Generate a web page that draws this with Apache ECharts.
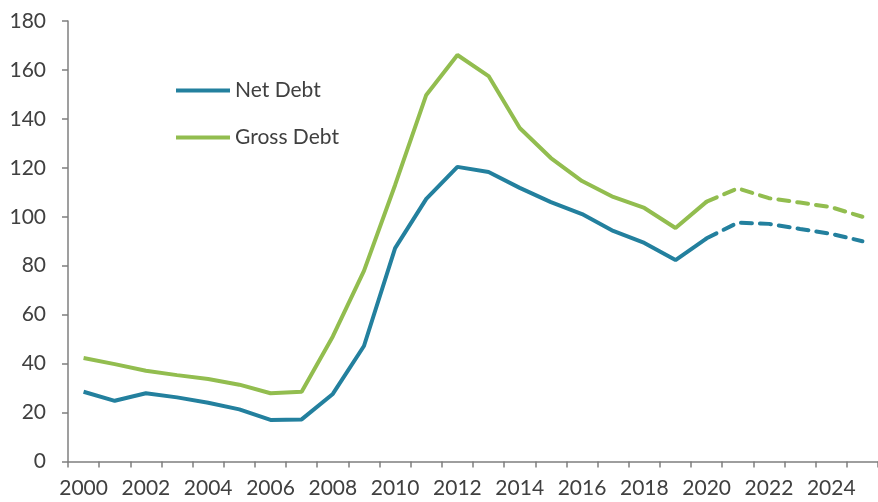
<!DOCTYPE html>
<html><head><meta charset="utf-8">
<script src="https://cdn.jsdelivr.net/npm/echarts@6/dist/echarts.min.js"></script>
<style>html,body{margin:0;padding:0;background:#fff}#c{width:878px;height:502px}</style>
</head><body><div id="c"></div>
<script>
var years = ['2000','2001','2002','2003','2004','2005','2006','2007','2008','2009','2010','2011','2012','2013','2014','2015','2016','2017','2018','2019','2020','2021','2022','2023','2024','2025'];
var netDebt = [28.5,24.8,27.9,26.2,24.0,21.3,17.0,17.2,27.6,47.2,87.2,107.3,120.4,118.3,111.8,106.0,101.1,94.2,89.3,82.3,91.2,97.6,97.1,95.0,93.0,90.0];
var grossDebt = [42.3,39.8,37.1,35.3,33.7,31.4,27.9,28.5,51.1,77.9,113.0,149.8,166.1,157.5,136.3,124.0,114.6,108.1,103.6,95.4,106.2,111.6,107.6,105.8,103.9,100.0];
var forecastStart = 20; // index of 2020
var yTicks = {min:0, max:180, interval:20};

function solidPart(arr){ return arr.map(function(v,i){ return i<=forecastStart ? v : null; }); }
function dashPart(arr){ return arr.map(function(v,i){ return i>=forecastStart ? v : null; }); }

var teal = '#23809e', green = '#92bd4f', textCol = '#404040', axisCol = '#7f7f7f';
var chart = echarts.init(document.getElementById('c'));
chart.setOption({
  animation:false,
  textStyle:{fontFamily:'Lato'},
  grid:{left:68, right:-9, top:21, bottom:40.5, containLabel:false},
  legend:{
    orient:'vertical', left:171, top:75, itemWidth:54, itemHeight:4, itemGap:26,
    icon:'rect', data:['Net Debt','Gross Debt'],
    textStyle:{fontSize:21, color:textCol, fontFamily:'Lato'}
  },
  xAxis:{
    type:'category', data:years, boundaryGap:true,
    axisLine:{lineStyle:{color:axisCol, width:1.5}},
    axisTick:{show:true, interval:0, length:6, lineStyle:{color:axisCol, width:1.5}},
    axisLabel:{interval:1, color:textCol, fontSize:21, margin:16, fontFamily:'Lato'},
    splitLine:{show:false}
  },
  yAxis:{
    type:'value', min:yTicks.min, max:yTicks.max, interval:yTicks.interval,
    axisLine:{show:true, lineStyle:{color:axisCol, width:1.5}},
    axisTick:{show:true, length:6, lineStyle:{color:axisCol, width:1.5}},
    axisLabel:{color:textCol, fontSize:21, margin:22, fontFamily:'Lato'},
    splitLine:{show:false}
  },
  series:[
    {name:'Net Debt', type:'line', data:solidPart(netDebt), showSymbol:false, symbol:'none', lineStyle:{color:teal, width:4}, itemStyle:{color:teal}},
    {name:'Gross Debt', type:'line', data:solidPart(grossDebt), showSymbol:false, symbol:'none', lineStyle:{color:green, width:4}, itemStyle:{color:green}},
    {name:'Net Debt f', type:'line', data:dashPart(netDebt), showSymbol:false, symbol:'none', lineStyle:{color:teal, width:4, type:[11,8], cap:'round'}, itemStyle:{color:teal}},
    {name:'Gross Debt f', type:'line', data:dashPart(grossDebt), showSymbol:false, symbol:'none', lineStyle:{color:green, width:4, type:[11,8], cap:'round'}, itemStyle:{color:green}}
  ]
});
</script></body></html>
